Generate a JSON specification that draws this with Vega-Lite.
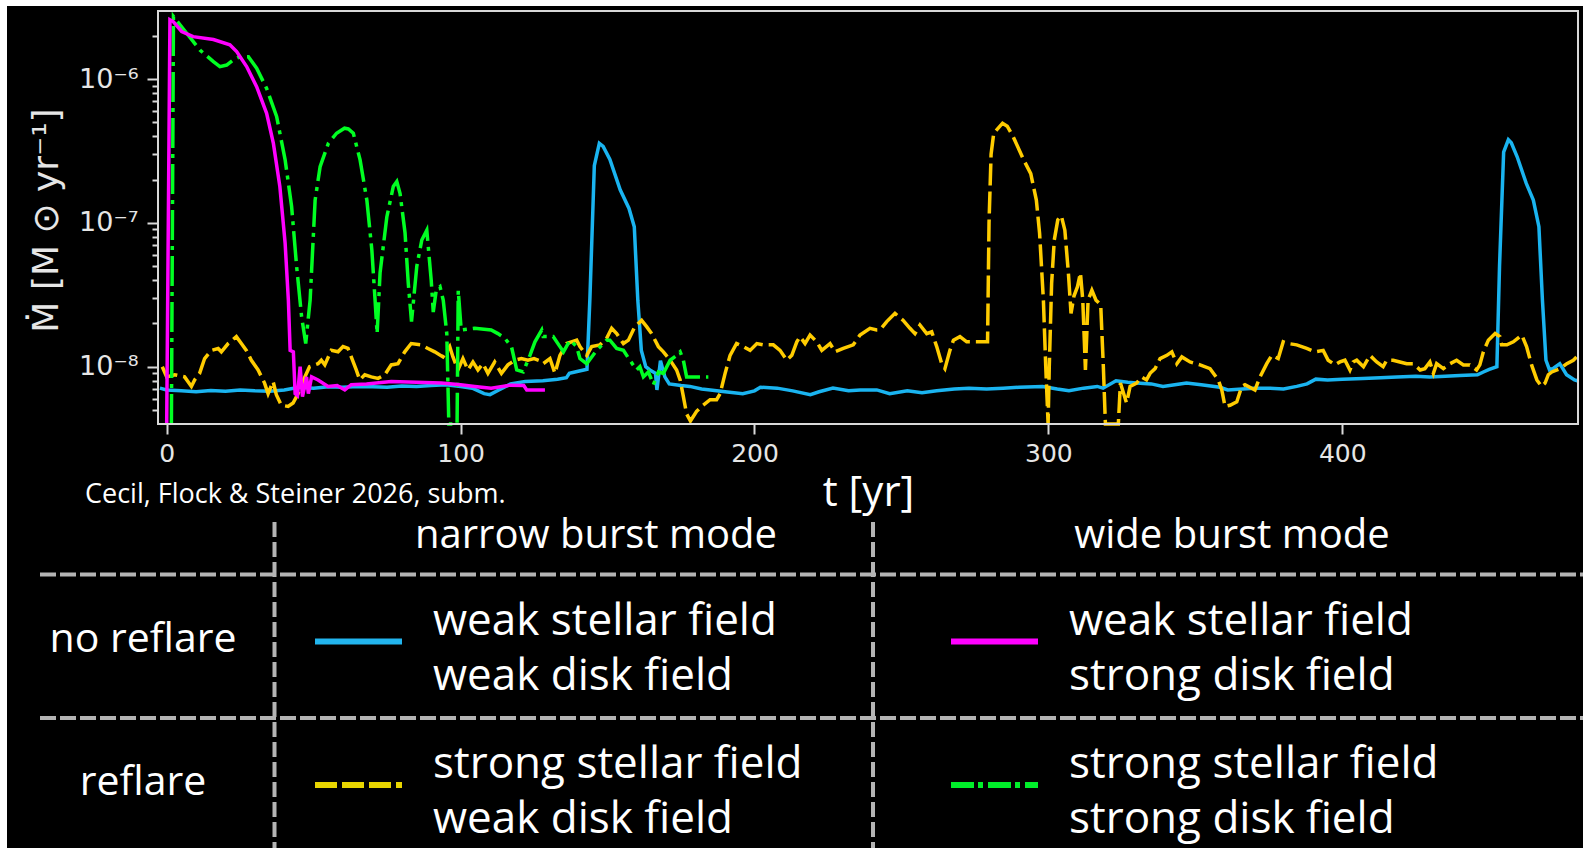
{
  "$schema": "https://vega.github.io/schema/vega-lite/v6.json",
  "width": 1576,
  "height": 842,
  "autosize": {"type": "none"},
  "padding": {"left": 7, "top": 6, "right": 0, "bottom": 0},
  "background": "#ffffff",
  "config": {
    "view": {"fill": "#000000", "stroke": null},
    "text": {"font": "Open Sans"},
    "axisLeft": {"labelFontSize": 27, "labelFont": "DejaVu Sans"}
  },
  "datasets": {
    "weak_stellar_weak_disk": [
      {"t": -2.3, "mdot": 7.1e-9}, {"t": 0, "mdot": 6.9e-9}, {"t": 5, "mdot": 6.8e-9}, {"t": 10, "mdot": 6.7e-9},
      {"t": 15, "mdot": 6.85e-9}, {"t": 20, "mdot": 6.75e-9}, {"t": 25, "mdot": 6.9e-9}, {"t": 30, "mdot": 6.8e-9},
      {"t": 35, "mdot": 6.75e-9}, {"t": 40, "mdot": 6.9e-9}, {"t": 45, "mdot": 7.2e-9}, {"t": 50, "mdot": 7.1e-9},
      {"t": 55, "mdot": 7.25e-9}, {"t": 60, "mdot": 7.2e-9}, {"t": 65, "mdot": 7.3e-9}, {"t": 70, "mdot": 7.25e-9},
      {"t": 75, "mdot": 7.2e-9}, {"t": 80, "mdot": 7.35e-9}, {"t": 85, "mdot": 7.3e-9}, {"t": 90, "mdot": 7.4e-9},
      {"t": 95, "mdot": 7.5e-9}, {"t": 100, "mdot": 7.3e-9}, {"t": 104, "mdot": 7.1e-9}, {"t": 108, "mdot": 6.5e-9},
      {"t": 110, "mdot": 6.4e-9}, {"t": 113, "mdot": 6.9e-9}, {"t": 117, "mdot": 7.6e-9}, {"t": 122, "mdot": 7.9e-9},
      {"t": 128, "mdot": 8.0e-9}, {"t": 133, "mdot": 8.2e-9}, {"t": 136, "mdot": 8.4e-9}, {"t": 137, "mdot": 9.0e-9},
      {"t": 140, "mdot": 9.3e-9}, {"t": 143, "mdot": 9.6e-9}, {"t": 144, "mdot": 3.0e-8}, {"t": 145.5, "mdot": 2.5e-7},
      {"t": 147.2, "mdot": 3.57e-7}, {"t": 148.5, "mdot": 3.4e-7}, {"t": 150.8, "mdot": 2.76e-7}, {"t": 154.3, "mdot": 1.7e-7},
      {"t": 157.3, "mdot": 1.26e-7}, {"t": 159.1, "mdot": 9.4e-8}, {"t": 160.3, "mdot": 2.9e-8}, {"t": 161.5, "mdot": 1.3e-8},
      {"t": 163, "mdot": 1.0e-8}, {"t": 164.4, "mdot": 9.5e-9}, {"t": 166.3, "mdot": 9.0e-9}, {"t": 166.8, "mdot": 6.9e-9},
      {"t": 168, "mdot": 1.1e-8}, {"t": 169.5, "mdot": 8.5e-9}, {"t": 171, "mdot": 7.6e-9}, {"t": 175, "mdot": 7.4e-9},
      {"t": 178, "mdot": 7.3e-9}, {"t": 182, "mdot": 7.0e-9}, {"t": 185, "mdot": 6.9e-9}, {"t": 190, "mdot": 6.7e-9},
      {"t": 196, "mdot": 6.5e-9}, {"t": 200, "mdot": 6.8e-9}, {"t": 202, "mdot": 7.2e-9}, {"t": 207.7, "mdot": 7.1e-9},
      {"t": 213, "mdot": 6.8e-9}, {"t": 219, "mdot": 6.4e-9}, {"t": 222, "mdot": 6.7e-9}, {"t": 226.7, "mdot": 7.1e-9},
      {"t": 232, "mdot": 6.8e-9}, {"t": 236, "mdot": 6.9e-9}, {"t": 241.6, "mdot": 6.9e-9}, {"t": 246, "mdot": 6.5e-9},
      {"t": 252, "mdot": 6.8e-9}, {"t": 257, "mdot": 6.6e-9}, {"t": 262, "mdot": 6.8e-9}, {"t": 268, "mdot": 7.0e-9},
      {"t": 273, "mdot": 7.1e-9}, {"t": 279, "mdot": 7.0e-9}, {"t": 284.6, "mdot": 7.1e-9}, {"t": 290, "mdot": 7.2e-9},
      {"t": 298, "mdot": 7.3e-9}, {"t": 303, "mdot": 7.0e-9}, {"t": 307, "mdot": 6.8e-9}, {"t": 312, "mdot": 7.1e-9},
      {"t": 316.6, "mdot": 7.3e-9}, {"t": 318.6, "mdot": 7.1e-9}, {"t": 323, "mdot": 8.0e-9}, {"t": 327, "mdot": 7.8e-9},
      {"t": 330, "mdot": 7.7e-9}, {"t": 335, "mdot": 7.6e-9}, {"t": 339, "mdot": 7.3e-9}, {"t": 343, "mdot": 7.5e-9},
      {"t": 347, "mdot": 7.7e-9}, {"t": 352, "mdot": 7.5e-9}, {"t": 358.4, "mdot": 7.2e-9}, {"t": 361, "mdot": 6.9e-9},
      {"t": 366, "mdot": 7.0e-9}, {"t": 370, "mdot": 7.1e-9}, {"t": 375.4, "mdot": 7.1e-9}, {"t": 380, "mdot": 7.0e-9},
      {"t": 384.5, "mdot": 7.3e-9}, {"t": 388, "mdot": 7.6e-9}, {"t": 391, "mdot": 8.2e-9}, {"t": 395, "mdot": 8.1e-9},
      {"t": 400, "mdot": 8.2e-9}, {"t": 407, "mdot": 8.3e-9}, {"t": 413, "mdot": 8.4e-9}, {"t": 418.6, "mdot": 8.5e-9},
      {"t": 425, "mdot": 8.6e-9}, {"t": 429.8, "mdot": 8.5e-9}, {"t": 435, "mdot": 8.6e-9}, {"t": 440, "mdot": 8.7e-9},
      {"t": 446, "mdot": 8.8e-9}, {"t": 448, "mdot": 9.2e-9}, {"t": 450, "mdot": 9.6e-9}, {"t": 452.6, "mdot": 1.0e-8},
      {"t": 453.5, "mdot": 5.0e-8}, {"t": 454.9, "mdot": 3.1e-7}, {"t": 456.5, "mdot": 3.78e-7}, {"t": 457.5, "mdot": 3.6e-7},
      {"t": 459.5, "mdot": 2.88e-7}, {"t": 462.6, "mdot": 1.88e-7}, {"t": 465, "mdot": 1.44e-7}, {"t": 466.9, "mdot": 9.4e-8},
      {"t": 468.1, "mdot": 2.9e-8}, {"t": 469.3, "mdot": 1.11e-8}, {"t": 470.5, "mdot": 9.5e-9}, {"t": 472, "mdot": 9.8e-9},
      {"t": 474, "mdot": 1.05e-8}, {"t": 476.3, "mdot": 8.8e-9}, {"t": 479, "mdot": 8.1e-9}, {"t": 480, "mdot": 8.0e-9}
    ],
    "weak_stellar_strong_disk": [
      {"t": 0, "mdot": 4.0e-9}, {"t": 1.1, "mdot": 2.58e-6}, {"t": 2.3, "mdot": 2.5e-6}, {"t": 5.1, "mdot": 2.14e-6},
      {"t": 9.0, "mdot": 1.97e-6}, {"t": 15.9, "mdot": 1.88e-6}, {"t": 21.5, "mdot": 1.73e-6}, {"t": 23.8, "mdot": 1.55e-6},
      {"t": 27.2, "mdot": 1.22e-6}, {"t": 30.6, "mdot": 8.85e-7}, {"t": 34.0, "mdot": 5.78e-7}, {"t": 36.3, "mdot": 3.57e-7},
      {"t": 38.5, "mdot": 1.79e-7}, {"t": 40.3, "mdot": 7.2e-8}, {"t": 41.4, "mdot": 2.9e-8}, {"t": 42.0, "mdot": 1.3e-8},
      {"t": 43.1, "mdot": 1.27e-8}, {"t": 43.7, "mdot": 6.5e-9}, {"t": 44.5, "mdot": 6.3e-9}, {"t": 45.4, "mdot": 1.0e-8},
      {"t": 46.2, "mdot": 6.2e-9}, {"t": 47.6, "mdot": 8.5e-9}, {"t": 48.2, "mdot": 6.5e-9}, {"t": 49.3, "mdot": 8.5e-9},
      {"t": 51.5, "mdot": 8.1e-9}, {"t": 54.9, "mdot": 7.3e-9}, {"t": 58, "mdot": 7.4e-9}, {"t": 60.6, "mdot": 6.9e-9},
      {"t": 62.8, "mdot": 7.5e-9}, {"t": 68, "mdot": 7.6e-9}, {"t": 76.4, "mdot": 7.9e-9}, {"t": 85, "mdot": 7.8e-9},
      {"t": 93.4, "mdot": 7.7e-9}, {"t": 100, "mdot": 7.5e-9}, {"t": 104.8, "mdot": 7.3e-9}, {"t": 110.4, "mdot": 7.1e-9},
      {"t": 117, "mdot": 7.45e-9}, {"t": 121.5, "mdot": 7.4e-9}, {"t": 122.5, "mdot": 6.9e-9}, {"t": 128.7, "mdot": 6.9e-9}
    ],
    "strong_stellar_weak_disk": [
      {"t": -1.5, "mdot": 1.0e-8}, {"t": 0, "mdot": 8.5e-9}, {"t": 2.7, "mdot": 8.8e-9}, {"t": 6.1, "mdot": 8.5e-9},
      {"t": 8.4, "mdot": 7.3e-9}, {"t": 9.5, "mdot": 8.1e-9}, {"t": 11.2, "mdot": 9.0e-9}, {"t": 12.9, "mdot": 1.14e-8},
      {"t": 15.2, "mdot": 1.3e-8}, {"t": 17.5, "mdot": 1.34e-8}, {"t": 18.6, "mdot": 1.27e-8}, {"t": 20.9, "mdot": 1.45e-8},
      {"t": 23.7, "mdot": 1.62e-8}, {"t": 25.4, "mdot": 1.45e-8}, {"t": 27.1, "mdot": 1.3e-8}, {"t": 28.8, "mdot": 1.11e-8},
      {"t": 31.1, "mdot": 9.5e-9}, {"t": 33.3, "mdot": 7.7e-9}, {"t": 34.5, "mdot": 6.5e-9}, {"t": 36.2, "mdot": 7.9e-9},
      {"t": 37.3, "mdot": 6.4e-9}, {"t": 39.0, "mdot": 5.4e-9}, {"t": 41.3, "mdot": 5.3e-9}, {"t": 43.0, "mdot": 5.6e-9},
      {"t": 44.7, "mdot": 6.5e-9}, {"t": 47.0, "mdot": 8.5e-9}, {"t": 48.6, "mdot": 1.0e-8}, {"t": 51.5, "mdot": 1.05e-8},
      {"t": 52.6, "mdot": 1.11e-8}, {"t": 53.8, "mdot": 1.03e-8}, {"t": 56.0, "mdot": 1.3e-8}, {"t": 58.3, "mdot": 1.27e-8},
      {"t": 60.0, "mdot": 1.38e-8}, {"t": 61.7, "mdot": 1.34e-8}, {"t": 62.8, "mdot": 1.17e-8}, {"t": 64.5, "mdot": 9.5e-9},
      {"t": 65.7, "mdot": 8.1e-9}, {"t": 67.4, "mdot": 8.8e-9}, {"t": 69.6, "mdot": 8.5e-9}, {"t": 71.9, "mdot": 8.3e-9},
      {"t": 74.2, "mdot": 8.8e-9}, {"t": 76.4, "mdot": 1.03e-8}, {"t": 78.7, "mdot": 1.05e-8}, {"t": 81.0, "mdot": 1.27e-8},
      {"t": 83.2, "mdot": 1.45e-8}, {"t": 86.6, "mdot": 1.42e-8}, {"t": 88.9, "mdot": 1.34e-8}, {"t": 91.2, "mdot": 1.27e-8},
      {"t": 94.0, "mdot": 1.17e-8}, {"t": 96.3, "mdot": 1.38e-8}, {"t": 97.4, "mdot": 1.17e-8}, {"t": 99.1, "mdot": 9.5e-9},
      {"t": 100.8, "mdot": 1.14e-8}, {"t": 102.5, "mdot": 9.5e-9}, {"t": 104.2, "mdot": 1.08e-8}, {"t": 105.9, "mdot": 9.5e-9},
      {"t": 107.6, "mdot": 1.05e-8}, {"t": 109.3, "mdot": 9.0e-9}, {"t": 111.6, "mdot": 1.08e-8}, {"t": 113.9, "mdot": 9.0e-9},
      {"t": 116.1, "mdot": 1.03e-8}, {"t": 118.4, "mdot": 1.11e-8}, {"t": 120.7, "mdot": 1.14e-8}, {"t": 122.9, "mdot": 1.11e-8},
      {"t": 125, "mdot": 1.14e-8}, {"t": 127, "mdot": 1.1e-8}, {"t": 128.1, "mdot": 1.05e-8}, {"t": 130.4, "mdot": 1.14e-8},
      {"t": 132.1, "mdot": 9.0e-9}, {"t": 133.8, "mdot": 1.2e-8}, {"t": 136.1, "mdot": 1.45e-8}, {"t": 139.5, "mdot": 1.53e-8},
      {"t": 140.6, "mdot": 1.38e-8}, {"t": 142.9, "mdot": 1.2e-8}, {"t": 144.6, "mdot": 1.38e-8}, {"t": 147.4, "mdot": 1.42e-8},
      {"t": 149.7, "mdot": 1.58e-8}, {"t": 151.4, "mdot": 1.85e-8}, {"t": 153.1, "mdot": 1.7e-8}, {"t": 155.4, "mdot": 1.45e-8},
      {"t": 157.1, "mdot": 1.53e-8}, {"t": 159.3, "mdot": 1.9e-8}, {"t": 161.6, "mdot": 2.1e-8}, {"t": 163.3, "mdot": 1.9e-8},
      {"t": 165.0, "mdot": 1.7e-8}, {"t": 167.3, "mdot": 1.38e-8}, {"t": 169.0, "mdot": 1.27e-8}, {"t": 171.3, "mdot": 1.11e-8},
      {"t": 173.5, "mdot": 9.5e-9}, {"t": 174.7, "mdot": 8.1e-9}, {"t": 175.8, "mdot": 6.2e-9}, {"t": 176.9, "mdot": 4.7e-9},
      {"t": 178.2, "mdot": 4.2e-9}, {"t": 180.3, "mdot": 4.9e-9}, {"t": 182.0, "mdot": 5.3e-9}, {"t": 184.9, "mdot": 5.9e-9},
      {"t": 187.1, "mdot": 5.9e-9}, {"t": 188.3, "mdot": 6.5e-9}, {"t": 190.0, "mdot": 9.0e-9}, {"t": 191.7, "mdot": 1.2e-8},
      {"t": 193.9, "mdot": 1.45e-8}, {"t": 196.2, "mdot": 1.38e-8}, {"t": 198.5, "mdot": 1.3e-8}, {"t": 200.8, "mdot": 1.45e-8},
      {"t": 203.0, "mdot": 1.42e-8}, {"t": 206.4, "mdot": 1.42e-8}, {"t": 208.7, "mdot": 1.3e-8}, {"t": 211.0, "mdot": 1.11e-8},
      {"t": 212.7, "mdot": 1.2e-8}, {"t": 214.4, "mdot": 1.49e-8}, {"t": 215.5, "mdot": 1.62e-8}, {"t": 217.2, "mdot": 1.45e-8},
      {"t": 218.9, "mdot": 1.66e-8}, {"t": 221.2, "mdot": 1.49e-8}, {"t": 222.9, "mdot": 1.3e-8}, {"t": 225.7, "mdot": 1.45e-8},
      {"t": 227.4, "mdot": 1.27e-8}, {"t": 230.2, "mdot": 1.34e-8}, {"t": 233.6, "mdot": 1.42e-8}, {"t": 235.9, "mdot": 1.66e-8},
      {"t": 239.3, "mdot": 1.85e-8}, {"t": 241.6, "mdot": 1.8e-8}, {"t": 242.7, "mdot": 1.8e-8}, {"t": 245.0, "mdot": 2.06e-8},
      {"t": 247.8, "mdot": 2.35e-8}, {"t": 250.6, "mdot": 2.1e-8}, {"t": 252.9, "mdot": 1.85e-8}, {"t": 254.6, "mdot": 1.7e-8},
      {"t": 256.3, "mdot": 1.95e-8}, {"t": 258.6, "mdot": 1.7e-8}, {"t": 260.3, "mdot": 1.75e-8}, {"t": 262.0, "mdot": 1.38e-8},
      {"t": 263.7, "mdot": 1.05e-8}, {"t": 264.8, "mdot": 9.7e-9}, {"t": 266.5, "mdot": 1.3e-8}, {"t": 267.7, "mdot": 1.53e-8},
      {"t": 269.9, "mdot": 1.62e-8}, {"t": 272.2, "mdot": 1.49e-8}, {"t": 279.3, "mdot": 1.49e-8}, {"t": 279.8, "mdot": 1.0e-7},
      {"t": 280.5, "mdot": 3.0e-7}, {"t": 281.4, "mdot": 4.2e-7}, {"t": 284.4, "mdot": 4.93e-7}, {"t": 286, "mdot": 4.7e-7},
      {"t": 288.0, "mdot": 3.98e-7}, {"t": 291.6, "mdot": 2.74e-7}, {"t": 294.0, "mdot": 2.2e-7}, {"t": 295.9, "mdot": 1.44e-7},
      {"t": 297.0, "mdot": 8.5e-8}, {"t": 298.3, "mdot": 2.9e-8}, {"t": 299.1, "mdot": 1.0e-8}, {"t": 299.9, "mdot": 4.0e-9},
      {"t": 300.3, "mdot": 1.0e-8}, {"t": 301.1, "mdot": 3.8e-8}, {"t": 302.0, "mdot": 7.6e-8}, {"t": 303.2, "mdot": 1.05e-7},
      {"t": 304.4, "mdot": 1.12e-7}, {"t": 305.6, "mdot": 8.9e-8}, {"t": 306.8, "mdot": 4.5e-8}, {"t": 307.7, "mdot": 2.35e-8},
      {"t": 308.7, "mdot": 3.1e-8}, {"t": 309.9, "mdot": 3.6e-8}, {"t": 310.9, "mdot": 4.5e-8}, {"t": 311.7, "mdot": 2.9e-8},
      {"t": 312.6, "mdot": 9.5e-9}, {"t": 313.5, "mdot": 2.9e-8}, {"t": 314.8, "mdot": 3.4e-8}, {"t": 316.2, "mdot": 2.9e-8},
      {"t": 317.8, "mdot": 2.7e-8}, {"t": 318.7, "mdot": 1.0e-8}, {"t": 319.4, "mdot": 4.0e-9}, {"t": 323.8, "mdot": 4.0e-9},
      {"t": 324.5, "mdot": 7.7e-9}, {"t": 326.6, "mdot": 5.6e-9}, {"t": 327.8, "mdot": 7.3e-9}, {"t": 330.0, "mdot": 7.7e-9},
      {"t": 331.7, "mdot": 8.5e-9}, {"t": 333.4, "mdot": 8.1e-9}, {"t": 334.6, "mdot": 9.0e-9}, {"t": 336.3, "mdot": 9.7e-9},
      {"t": 338.0, "mdot": 1.14e-8}, {"t": 340.3, "mdot": 1.2e-8}, {"t": 342.0, "mdot": 1.27e-8}, {"t": 343.7, "mdot": 1.05e-8},
      {"t": 345.4, "mdot": 1.17e-8}, {"t": 348.2, "mdot": 1.08e-8}, {"t": 351.6, "mdot": 1.03e-8}, {"t": 355.0, "mdot": 9.7e-9},
      {"t": 357.8, "mdot": 8.1e-9}, {"t": 359.0, "mdot": 6.9e-9}, {"t": 360.1, "mdot": 5.3e-9}, {"t": 361.8, "mdot": 5.4e-9},
      {"t": 364.1, "mdot": 5.7e-9}, {"t": 365.8, "mdot": 7.3e-9}, {"t": 366.9, "mdot": 7.5e-9}, {"t": 370.3, "mdot": 6.9e-9},
      {"t": 372.0, "mdot": 8.5e-9}, {"t": 374.3, "mdot": 1.05e-8}, {"t": 376.0, "mdot": 1.2e-8}, {"t": 378.2, "mdot": 1.14e-8},
      {"t": 379.9, "mdot": 1.49e-8}, {"t": 381.6, "mdot": 1.45e-8}, {"t": 384.5, "mdot": 1.42e-8}, {"t": 387.9, "mdot": 1.34e-8},
      {"t": 390.7, "mdot": 1.27e-8}, {"t": 393.5, "mdot": 1.3e-8}, {"t": 395.2, "mdot": 1.11e-8}, {"t": 397.5, "mdot": 1.03e-8},
      {"t": 399.2, "mdot": 1.08e-8}, {"t": 400.9, "mdot": 1.11e-8}, {"t": 402.6, "mdot": 9.5e-9}, {"t": 403.7, "mdot": 1.08e-8},
      {"t": 404.9, "mdot": 1.11e-8}, {"t": 407.2, "mdot": 1.0e-8}, {"t": 409.4, "mdot": 1.2e-8}, {"t": 411.7, "mdot": 1.08e-8},
      {"t": 413.9, "mdot": 1.0e-8}, {"t": 415.1, "mdot": 1.11e-8}, {"t": 417.3, "mdot": 1.11e-8}, {"t": 419.6, "mdot": 1.08e-8},
      {"t": 421.9, "mdot": 1.05e-8}, {"t": 424.2, "mdot": 1.05e-8}, {"t": 426.5, "mdot": 9.5e-9}, {"t": 428.1, "mdot": 9.7e-9},
      {"t": 429.8, "mdot": 1.08e-8}, {"t": 431.0, "mdot": 9.0e-9}, {"t": 432.1, "mdot": 1.05e-8}, {"t": 434.4, "mdot": 9.7e-9},
      {"t": 436.7, "mdot": 1.05e-8}, {"t": 438.9, "mdot": 1.11e-8}, {"t": 441.2, "mdot": 1.03e-8}, {"t": 443.4, "mdot": 1.03e-8},
      {"t": 445.7, "mdot": 9.5e-9}, {"t": 446.8, "mdot": 1.03e-8}, {"t": 448.0, "mdot": 1.27e-8}, {"t": 449.7, "mdot": 1.53e-8},
      {"t": 452.0, "mdot": 1.7e-8}, {"t": 453.6, "mdot": 1.62e-8}, {"t": 454.2, "mdot": 1.42e-8}, {"t": 456.0, "mdot": 1.42e-8},
      {"t": 458.2, "mdot": 1.49e-8}, {"t": 461.1, "mdot": 1.66e-8}, {"t": 462.7, "mdot": 1.38e-8}, {"t": 464.4, "mdot": 1.03e-8},
      {"t": 466.2, "mdot": 8.1e-9}, {"t": 467.8, "mdot": 7.3e-9}, {"t": 469.0, "mdot": 7.7e-9}, {"t": 470.1, "mdot": 8.8e-9},
      {"t": 471.3, "mdot": 9.2e-9}, {"t": 474.1, "mdot": 9.7e-9}, {"t": 476.4, "mdot": 1.05e-8}, {"t": 478.6, "mdot": 1.11e-8},
      {"t": 479.7, "mdot": 1.17e-8}
    ],
    "strong_stellar_strong_disk": [
      {"t": 1.6, "mdot": 4.0e-9}, {"t": 2.3, "mdot": 2.72e-6}, {"t": 6.8, "mdot": 2.08e-6}, {"t": 11.3, "mdot": 1.59e-6},
      {"t": 15.9, "mdot": 1.32e-6}, {"t": 18.1, "mdot": 1.22e-6}, {"t": 20.4, "mdot": 1.25e-6}, {"t": 22.7, "mdot": 1.36e-6},
      {"t": 24.9, "mdot": 1.43e-6}, {"t": 27.8, "mdot": 1.43e-6}, {"t": 30.6, "mdot": 1.19e-6}, {"t": 34.0, "mdot": 8.6e-7},
      {"t": 37.4, "mdot": 5.5e-7}, {"t": 40.3, "mdot": 2.74e-7}, {"t": 42.5, "mdot": 1.3e-7}, {"t": 44.2, "mdot": 5.0e-8},
      {"t": 45.9, "mdot": 2.23e-8}, {"t": 47.3, "mdot": 1.45e-8}, {"t": 48.8, "mdot": 2.9e-8}, {"t": 50.5, "mdot": 1.44e-7},
      {"t": 52.2, "mdot": 2.46e-7}, {"t": 55.0, "mdot": 3.57e-7}, {"t": 57.8, "mdot": 4.2e-7}, {"t": 60.5, "mdot": 4.55e-7},
      {"t": 61.8, "mdot": 4.5e-7}, {"t": 63.5, "mdot": 4.2e-7}, {"t": 65.8, "mdot": 2.74e-7}, {"t": 68.1, "mdot": 1.44e-7},
      {"t": 69.8, "mdot": 6.5e-8}, {"t": 70.9, "mdot": 2.9e-8}, {"t": 71.6, "mdot": 1.7e-8}, {"t": 72.6, "mdot": 4.5e-8},
      {"t": 74.9, "mdot": 1.1e-7}, {"t": 77.1, "mdot": 1.79e-7}, {"t": 78.3, "mdot": 1.94e-7}, {"t": 79.4, "mdot": 1.6e-7},
      {"t": 81.1, "mdot": 8.5e-8}, {"t": 82.2, "mdot": 3.8e-8}, {"t": 83.3, "mdot": 2.06e-8}, {"t": 85.1, "mdot": 5.0e-8},
      {"t": 86.8, "mdot": 7.6e-8}, {"t": 88.5, "mdot": 8.9e-8}, {"t": 90.0, "mdot": 4.0e-8}, {"t": 90.7, "mdot": 2.4e-8},
      {"t": 91.7, "mdot": 3.4e-8}, {"t": 93.0, "mdot": 3.6e-8}, {"t": 94.1, "mdot": 2.9e-8}, {"t": 95.3, "mdot": 1.7e-8},
      {"t": 96.0, "mdot": 4.0e-9}, {"t": 98.8, "mdot": 4.0e-9}, {"t": 99.2, "mdot": 3.4e-8}, {"t": 100.2, "mdot": 1.8e-8},
      {"t": 104.8, "mdot": 1.85e-8}, {"t": 110.4, "mdot": 1.8e-8}, {"t": 112.7, "mdot": 1.7e-8}, {"t": 115, "mdot": 1.58e-8},
      {"t": 117.3, "mdot": 1.38e-8}, {"t": 119.1, "mdot": 9.5e-9}, {"t": 121.3, "mdot": 9.2e-9}, {"t": 123.6, "mdot": 1.2e-8},
      {"t": 125.3, "mdot": 1.49e-8}, {"t": 127.6, "mdot": 1.8e-8}, {"t": 128.1, "mdot": 1.62e-8}, {"t": 131.5, "mdot": 1.62e-8},
      {"t": 133.8, "mdot": 1.38e-8}, {"t": 135, "mdot": 1.27e-8}, {"t": 137.2, "mdot": 1.53e-8}, {"t": 139.5, "mdot": 1.38e-8},
      {"t": 140.6, "mdot": 1.14e-8}, {"t": 142.9, "mdot": 1.05e-8}, {"t": 146.3, "mdot": 1.3e-8}, {"t": 149.7, "mdot": 1.53e-8},
      {"t": 150.8, "mdot": 1.53e-8}, {"t": 153.1, "mdot": 1.34e-8}, {"t": 155.4, "mdot": 1.3e-8}, {"t": 157.6, "mdot": 1.11e-8},
      {"t": 159.9, "mdot": 9.5e-9}, {"t": 161, "mdot": 1.0e-8}, {"t": 162.2, "mdot": 8.5e-9}, {"t": 163.9, "mdot": 9.2e-9},
      {"t": 165.6, "mdot": 7.5e-9}, {"t": 167.3, "mdot": 9.2e-9}, {"t": 169, "mdot": 9.0e-9}, {"t": 171.3, "mdot": 1.11e-8},
      {"t": 173.5, "mdot": 1.2e-8}, {"t": 174.7, "mdot": 1.27e-8}, {"t": 175.8, "mdot": 1.11e-8}, {"t": 176.9, "mdot": 8.5e-9},
      {"t": 184.3, "mdot": 8.5e-9}
    ],
    "cells": [
      {"row": "no reflare", "col": "narrow", "series": "weak stellar / weak disk", "lines": ["weak stellar field", "weak disk field"]},
      {"row": "no reflare", "col": "wide", "series": "weak stellar / strong disk", "lines": ["weak stellar field", "strong disk field"]},
      {"row": "reflare", "col": "narrow", "series": "strong stellar / weak disk", "lines": ["strong stellar field", "weak disk field"]},
      {"row": "reflare", "col": "wide", "series": "strong stellar / strong disk", "lines": ["strong stellar field", "strong disk field"]}
    ],
    "headers": [{"col": "narrow", "label": "narrow burst mode"}, {"col": "wide", "label": "wide burst mode"}],
    "rowheads": [{"row": "no reflare"}, {"row": "reflare"}],
    "dividers": [{"col": "narrow", "row": "no reflare"}, {"col": "wide", "row": "reflare"}],
    "caption": [{"text": "Cecil, Flock & Steiner 2026, subm."}]
  },
  "layer": [
    {
      "layer": [
        {
          "data": {"name": "weak_stellar_weak_disk"},
          "mark": {"type": "line", "color": "#1ab4f0", "strokeWidth": 3.5},
          "encoding": {
            "x": {"field": "t", "type": "quantitative",
              "scale": {"domain": [-2.96, 480.2], "range": [151, 1571], "nice": false, "zero": false},
              "axis": {"orient": "bottom", "offset": -424, "domain": false, "grid": false, "values": [0, 100, 200, 300, 400],
                "tickSize": 10, "tickWidth": 2, "tickColor": "#d9d9d9", "labelFont": "DejaVu Sans", "labelFontSize": 25,
                "labelColor": "#e6e6e6", "labelPadding": 7, "labelFlush": false, "title": "t [yr]", "titleFont": "Open Sans",
                "titleFontSize": 42, "titleFontWeight": "normal", "titleColor": "#ffffff", "titleY": 81, "titleBaseline": "alphabetic"}},
            "y": {"field": "mdot", "type": "quantitative",
              "scale": {"type": "log", "domain": [4e-9, 2.97e-6], "range": [418, 5], "nice": false},
              "axis": {"orient": "left", "offset": -151, "domain": false, "grid": false,
                "values": [5e-9, 6e-9, 7e-9, 8e-9, 9e-9, 1e-8, 2e-8, 3e-8, 4e-8, 5e-8, 6e-8, 7e-8, 8e-8, 9e-8, 1e-7, 2e-7, 3e-7, 4e-7, 5e-7, 6e-7, 7e-7, 8e-7, 9e-7, 1e-6, 2e-6],
                "labelExpr": "datum.value == 1e-6 ? '10⁻⁶' : datum.value == 1e-7 ? '10⁻⁷' : datum.value == 1e-8 ? '10⁻⁸' : ''",
                "tickSize": {"condition": {"test": "datum.value == 1e-6 || datum.value == 1e-7 || datum.value == 1e-8", "value": 11}, "value": 6},
                "tickWidth": 2, "tickColor": "#d9d9d9", "labelFont": "DejaVu Sans", "labelFontSize": 27, "labelColor": "#e6e6e6",
                "labelPadding": 9, "labelOverlap": false, "labelBound": false, "labelFlush": false,
                "title": "Ṁ [M ⊙ yr⁻¹]", "titleFont": "DejaVu Sans", "titleFontSize": 36, "titleFontWeight": "normal",
                "titleColor": "#e6e6e6", "titleAngle": 270, "titleX": -112, "titleY": 214, "titleAlign": "center", "titleBaseline": "middle"}}
          }
        },
        {
          "data": {"name": "strong_stellar_weak_disk"},
          "mark": {"type": "line", "color": "#ffcc00", "strokeWidth": 3.5, "strokeDash": [22, 6]},
          "encoding": {"x": {"field": "t", "type": "quantitative"}, "y": {"field": "mdot", "type": "quantitative"}}
        },
        {
          "data": {"name": "strong_stellar_strong_disk"},
          "mark": {"type": "line", "color": "#00ff22", "strokeWidth": 3.5, "strokeDash": [30, 6, 4, 6]},
          "encoding": {"x": {"field": "t", "type": "quantitative"}, "y": {"field": "mdot", "type": "quantitative"}}
        },
        {
          "data": {"name": "weak_stellar_strong_disk"},
          "mark": {"type": "line", "color": "#ff00ff", "strokeWidth": 3.5},
          "encoding": {"x": {"field": "t", "type": "quantitative"}, "y": {"field": "mdot", "type": "quantitative"}}
        },
        {
          "data": {"name": "caption"},
          "mark": {"type": "rect", "fill": "transparent", "stroke": "#d9d9d9", "strokeWidth": 2},
          "encoding": {
            "x": {"datum": -2.96, "type": "quantitative"}, "x2": {"datum": 480.2},
            "y": {"datum": 4e-9, "type": "quantitative"}, "y2": {"datum": 2.97e-6}
          }
        }
      ]
    },
    {
      "layer": [
        {
          "data": {"name": "dividers"},
          "mark": {"type": "rule", "stroke": "#b4b4b4", "strokeWidth": 4, "strokeDash": [16, 4], "xOffset": -393, "x2Offset": 514, "yOffset": -67},
          "encoding": {
            "x": {"datum": "narrow", "type": "nominal", "scale": {"type": "point", "domain": ["narrow", "wide"], "range": [426, 1062], "padding": 0}, "axis": null},
            "x2": {"datum": "wide"},
            "y": {"field": "row", "type": "nominal", "scale": {"type": "point", "domain": ["header", "no reflare", "reflare"], "range": [492, 779], "padding": 0}, "axis": null}
          }
        },
        {
          "data": {"name": "dividers"},
          "transform": [{"filter": "datum.col == 'narrow'"}],
          "mark": {"type": "rule", "stroke": "#b4b4b4", "strokeWidth": 4, "strokeDash": [15, 5], "xOffset": -158.5, "yOffset": 24, "y2Offset": 63},
          "encoding": {
            "x": {"field": "col", "type": "nominal", "axis": null},
            "y": {"datum": "header", "type": "nominal", "axis": null},
            "y2": {"datum": "reflare"}
          }
        },
        {
          "data": {"name": "dividers"},
          "transform": [{"filter": "datum.col == 'wide'"}],
          "mark": {"type": "rule", "stroke": "#b4b4b4", "strokeWidth": 4, "strokeDash": [15, 5], "xOffset": -196, "yOffset": 24, "y2Offset": 63},
          "encoding": {
            "x": {"field": "col", "type": "nominal", "axis": null},
            "y": {"datum": "header", "type": "nominal", "axis": null},
            "y2": {"datum": "reflare"}
          }
        },
        {
          "data": {"name": "headers"},
          "mark": {"type": "text", "font": "Open Sans", "fontSize": 40, "color": "#ffffff", "align": "center", "baseline": "alphabetic", "dx": 163, "dy": 50},
          "encoding": {
            "x": {"field": "col", "type": "nominal", "axis": null},
            "y": {"datum": "header", "type": "nominal", "axis": null},
            "text": {"field": "label"}
          }
        },
        {
          "data": {"name": "rowheads"},
          "mark": {"type": "text", "font": "Open Sans", "fontSize": 41, "color": "#ffffff", "align": "center", "baseline": "alphabetic", "dx": -290, "dy": 10},
          "encoding": {
            "x": {"datum": "narrow", "type": "nominal", "axis": null},
            "y": {"field": "row", "type": "nominal", "axis": null},
            "text": {"field": "row"}
          }
        },
        {
          "data": {"name": "cells"},
          "mark": {"type": "text", "font": "Open Sans", "fontSize": 44, "color": "#ffffff", "align": "left", "baseline": "alphabetic", "dy": -7, "lineHeight": 55},
          "encoding": {
            "x": {"field": "col", "type": "nominal", "axis": null},
            "y": {"field": "row", "type": "nominal", "axis": null},
            "text": {"field": "lines"}
          }
        },
        {
          "data": {"name": "cells"},
          "mark": {"type": "rule", "strokeWidth": 6, "xOffset": -118, "x2Offset": -31},
          "encoding": {
            "x": {"field": "col", "type": "nominal", "axis": null},
            "x2": {"field": "col"},
            "y": {"field": "row", "type": "nominal", "axis": null},
            "color": {"field": "series", "type": "nominal", "legend": null,
              "scale": {"domain": ["weak stellar / weak disk", "weak stellar / strong disk", "strong stellar / weak disk", "strong stellar / strong disk"],
                "range": ["#22b5ee", "#ff00ff", "#e8d500", "#00ee2a"]}},
            "strokeDash": {"field": "series", "type": "nominal", "legend": null,
              "scale": {"domain": ["weak stellar / weak disk", "weak stellar / strong disk", "strong stellar / weak disk", "strong stellar / strong disk"],
                "range": [[1, 0], [1, 0], [22, 5], [23, 4, 5, 5]]}}
          }
        },
        {
          "data": {"name": "caption"},
          "mark": {"type": "text", "font": "Open Sans", "fontSize": 27, "color": "#ffffff", "align": "left", "baseline": "alphabetic", "dx": -348, "dy": 5},
          "encoding": {
            "x": {"datum": "narrow", "type": "nominal", "axis": null},
            "y": {"datum": "header", "type": "nominal", "axis": null},
            "text": {"field": "text"}
          }
        }
      ]
    }
  ],
  "resolve": {
    "scale": {"x": "independent", "y": "independent", "color": "independent", "strokeDash": "independent"},
    "axis": {"x": "independent", "y": "independent"}
  }
}
